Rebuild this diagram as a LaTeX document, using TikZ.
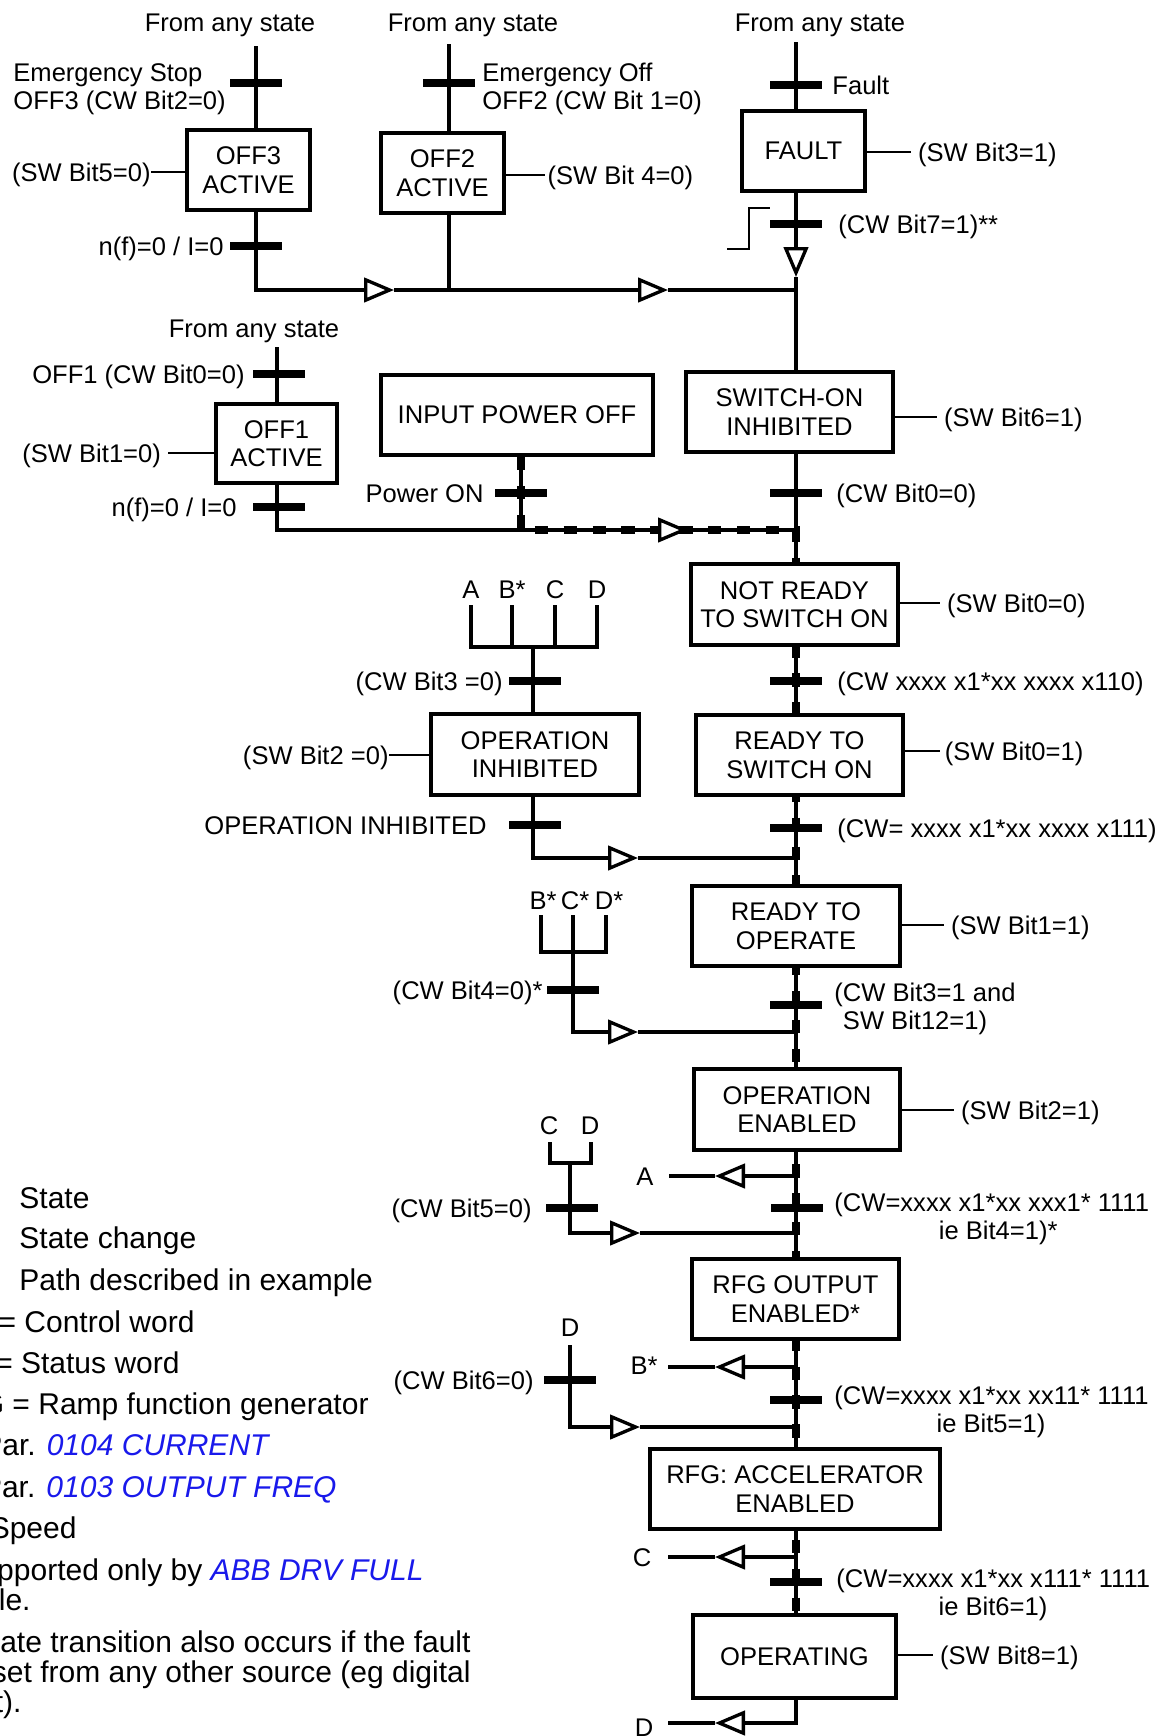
\documentclass[tikz,border=0pt]{standalone}
\usepackage{fontspec}
\setmainfont{Liberation Sans}
\usetikzlibrary{arrows.meta,calc}

\definecolor{parblue}{RGB}{25,25,235}
\newcommand{\boxfont}{\fontsize{11.5}{12.8}\selectfont}
\newcommand{\legfont}{\fontsize{13.5}{15}\selectfont}
\newcommand{\parref}[1]{\textcolor{parblue}{\itshape #1}}

\pgfdeclarelayer{back}
\pgfsetlayers{back,main}

\tikzset{
  stbox/.style 2 args={draw, fill=white, line width=1.9pt, align=center, font=\boxfont,
    inner sep=0pt, minimum width=#1*0.45pt, minimum height=#2*0.45pt},
  tbar/.style={fill, inner sep=0pt, minimum width=23pt, minimum height=4pt},
  lbl/.style={font=\boxfont, inner sep=0pt, text height=10.2pt, text depth=2pt},
  lbltwo/.style={font=\boxfont, inner sep=0pt, align=left},
  sw/.style={lbl, inner xsep=3pt},
  leg/.style={font=\legfont, inner sep=0pt, text height=11.7pt, text depth=2pt},
  link/.style={line width=1.5pt},
  swline/.style={line width=1.2pt},
  flow/.style={link, -{Triangle[fill=white, length=13.5pt, width=11pt]}},
  route/.style={line width=3.8pt, dash pattern=on 6pt off 7pt},
}

\begin{document}
\begin{tikzpicture}[x=0.45pt, y=-0.45pt]
  \useasboundingbox (0,0) rectangle (1166,1736);
  \clip (0,0) rectangle (1166,1736);

  % states
  \node[stbox={123}{80}] (off3) at (248.5,170) {OFF3\\ACTIVE};
  \node[stbox={123}{80}] (off2) at (442.5,173) {OFF2\\ACTIVE};
  \node[stbox={123}{80}] (fault) at (803.5,151) {FAULT};
  \node[stbox={121}{79}] (off1) at (276.5,443.5) {OFF1\\ACTIVE};
  \node[stbox={272}{80}] (power) at (517,415) {INPUT POWER OFF};
  \node[stbox={207}{80}] (swinh) at (789.5,412) {SWITCH-ON\\INHIBITED};
  \node[stbox={207}{81}] (notready) at (794.5,604.5) {NOT READY\\TO SWITCH ON};
  \node[stbox={208}{81}] (opinh) at (535,754.5) {OPERATION\\INHIBITED};
  \node[stbox={207}{80}] (readyon) at (799.5,755) {READY TO\\SWITCH ON};
  \node[stbox={208}{80}] (readyop) at (796,926) {READY TO\\OPERATE};
  \node[stbox={206}{81}] (openab) at (797,1109.5) {OPERATION\\ENABLED};
  \node[stbox={207}{80}] (rfgout) at (795.5,1299) {RFG OUTPUT\\ENABLED*};
  \node[stbox={290}{80}] (rfgacc) at (795,1489) {RFG: ACCELERATOR\\ENABLED};
  \node[stbox={203}{83}] (oper) at (794.5,1656.5) {OPERATING};

  % transitions
  \node[tbar] (off3in) at (256,83) {};
  \node[tbar] (off3out) at (256,246) {};
  \node[tbar] (off2in) at (449,83) {};
  \node[tbar] (faultin) at (796,85) {};
  \node[tbar] (reset) at (796,224) {};
  \node[tbar] (off1in) at (279,374) {};
  \node[tbar] (off1out) at (279,507) {};
  \node[tbar] (pwon) at (521,493) {};
  \node[tbar] (cwzero) at (796,493) {};
  \node[tbar] (bitthree) at (535,681) {};
  \node[tbar] (tosix) at (796,681) {};
  \node[tbar] (opinhout) at (535,825) {};
  \node[tbar] (toseven) at (796,828) {};
  \node[tbar] (bitfour) at (573,990) {};
  \node[tbar] (enable) at (796,1005) {};
  \node[tbar] (bitfive) at (572,1208) {};
  \node[tbar] (rfgon) at (797,1208) {};
  \node[tbar] (bitsix) at (570,1380) {};
  \node[tbar] (accon) at (796,1400) {};
  \node[tbar] (run) at (796,1582) {};

  % junctions and arrow tips
  \coordinate (sp) at (796,0);
  \coordinate (top3) at (256,46);
  \coordinate (top2) at (449,44);
  \coordinate (topf) at (796,42);
  \coordinate (top1) at (277,347);
  \coordinate (ar1) at (394,290);
  \coordinate (ar2) at (668,290);
  \coordinate (arf) at (796,277);
  \coordinate (j1) at (277,530);
  \coordinate (jp) at (521,530);
  \coordinate (ar3) at (688,530);
  \coordinate (sA) at (471,605);
  \coordinate (sB) at (512,605);
  \coordinate (sC) at (555,605);
  \coordinate (sD) at (597,605);
  \coordinate (k1) at (533,647);
  \coordinate (ar4) at (638,858);
  \coordinate (sB2) at (541,915);
  \coordinate (sC2) at (573,915);
  \coordinate (sD2) at (606,915);
  \coordinate (k2) at (573,952);
  \coordinate (ar5) at (638,1032);
  \coordinate (sC3) at (550,1142);
  \coordinate (sD3) at (591,1142);
  \coordinate (k3) at (570,1163);
  \coordinate (ar6) at (640,1233);
  \coordinate (sD4) at (570,1345);
  \coordinate (ar7) at (640,1427);
  \coordinate (arA) at (715,1176);
  \coordinate (eA) at (669,1176);
  \coordinate (arB) at (715,1367);
  \coordinate (eB) at (668,1367);
  \coordinate (arC) at (715,1557);
  \coordinate (eC) at (668,1557);
  \coordinate (arD) at (715,1723);
  \coordinate (eD) at (668,1723);

  % labels
  \node[lbl] (from3) at (230,22) {From any state};
  \node[lbl] (from2) at (473,22) {From any state};
  \node[lbl] (fromf) at (820,22) {From any state};
  \node[lbl] (from1) at (254,328) {From any state};
  \node[lbltwo, anchor=west] (estop) at (13,89) {Emergency Stop\\OFF3 (CW Bit2=0)};
  \node[lbltwo, anchor=west] (eoff) at (482,89) {Emergency Off\\OFF2 (CW Bit 1=0)};
  \node[lbl, anchor=west] (faultlbl) at (832,85) {Fault};
  \node[sw, inner xsep=0pt, anchor=east] (sw5) at (151,172) {(SW Bit5=0)};
  \node[sw, inner xsep=1pt, anchor=west] (sw4) at (545,175) {(SW Bit 4=0)};
  \node[sw, anchor=west] (sw3) at (911,152) {(SW Bit3=1)};
  \node[lbl, anchor=east] (nf3) at (224,246) {n(f)=0 / I=0};
  \node[lbl, anchor=west] (cw7) at (838,224) {(CW Bit7=1)**};
  \node[lbl, anchor=east] (off1lbl) at (245,374) {OFF1 (CW Bit0=0)};
  \node[sw, anchor=east] (sw1) at (168,453) {(SW Bit1=0)};
  \node[lbl, anchor=east] (nf1) at (237,507) {n(f)=0 / I=0};
  \node[lbl, anchor=east] (pwonlbl) at (484,493) {Power ON};
  \node[sw, anchor=west] (sw6) at (937,417) {(SW Bit6=1)};
  \node[lbl, anchor=west] (cw0) at (836,493) {(CW Bit0=0)};
  \node[lbl] (lA) at (471,589) {A};
  \node[lbl] (lB) at (512,589) {B*};
  \node[lbl] (lC) at (555,589) {C};
  \node[lbl] (lD) at (597,589) {D};
  \node[lbl, anchor=east] (cw3) at (503,681) {(CW Bit3 =0)};
  \node[sw, anchor=west] (sw0a) at (940,603) {(SW Bit0=0)};
  \node[lbl, anchor=west] (cw110) at (837,681) {(CW xxxx x1*xx xxxx x110)};
  \node[sw, inner xsep=0pt, anchor=east] (sw2) at (389,755) {(SW Bit2 =0)};
  \node[sw, inner xsep=2pt, anchor=west] (sw0b) at (940,751) {(SW Bit0=1)};
  \node[lbl, anchor=east] (opinhlbl) at (487,825) {OPERATION INHIBITED};
  \node[lbl, anchor=west] (cw111) at (837,828) {(CW= xxxx x1*xx xxxx x111)};
  \node[lbl] (lB2) at (543,900) {B*};
  \node[lbl] (lC2) at (575,900) {C*};
  \node[lbl] (lD2) at (609,900) {D*};
  \node[sw, anchor=west] (sw1b) at (944,925) {(SW Bit1=1)};
  \node[lbl, anchor=east] (cw4) at (543,990) {(CW Bit4=0)*};
  \node[lbltwo, anchor=west] (cw12) at (834,1009) {(CW Bit3=1 and\\\hphantom{(}SW Bit12=1)};
  \node[sw, anchor=west] (sw2b) at (954,1110) {(SW Bit2=1)};
  \node[lbl] (lC3) at (549,1125) {C};
  \node[lbl] (lD3) at (590,1125) {D};
  \node[lbl] (lA2) at (645,1176) {A};
  \node[lbl, anchor=east] (cw5) at (532,1208) {(CW Bit5=0)};
  \node[lbltwo, anchor=west] (cwbit4) at (834,1219) {(CW=xxxx x1*xx xxx1* 1111\\\hspace*{47pt}ie Bit4=1)*};
  \node[lbl] (lD4) at (570,1327) {D};
  \node[lbl] (lB3) at (644,1365) {B*};
  \node[lbl, anchor=east] (cw6) at (534,1380) {(CW Bit6=0)};
  \node[lbltwo, anchor=west] (cwbit5) at (834,1412) {(CW=xxxx x1*xx xx11* 1111\\\hspace*{46pt}ie Bit5=1)};
  \node[lbl] (lC4) at (642,1557) {C};
  \node[lbltwo, anchor=west] (cwbit6) at (836,1595) {(CW=xxxx x1*xx x111* 1111\\\hspace*{46pt}ie Bit6=1)};
  \node[sw, anchor=west] (sw8) at (933,1655) {(SW Bit8=1)};
  \node[lbl] (lD5) at (644,1727) {D};

  % legend
  \node[leg, anchor=west] (lgstate) at (19,1198) {State};
  \node[leg, anchor=west] (lgchange) at (19,1238) {State change};
  \node[leg, anchor=west] (lgpath) at (19,1280) {Path described in example};
  \node[leg, anchor=east] (lgcw) at (195,1322) {= Control word};
  \node[leg, anchor=east] (lgsw) at (180,1363) {= Status word};
  \node[leg, anchor=east] (lgrfg) at (369,1404) {G = Ramp function generator};
  \node[leg, anchor=east] (lgcur) at (269,1445) {Par. \parref{0104 CURRENT}};
  \node[leg, anchor=east] (lgfreq) at (337,1487) {Par. \parref{0103 OUTPUT FREQ}};
  \node[leg, anchor=east] (lgspeed) at (77,1528) {Speed};
  \node[leg, anchor=east] (lgabb) at (424,1570) {pported only by \parref{ABB DRV FULL}};
  \node[leg, anchor=east] (lgabbb) at (31,1600) {le.};
  \node[leg, anchor=east] (lgnote) at (471,1642) {ate transition also occurs if the fault};
  \node[leg, anchor=east] (lgnoteb) at (471,1672) {set from any other source (eg digital};
  \node[leg, anchor=east] (lgnotec) at (22,1702) {t).};

  \begin{pgfonlayer}{back}
    % path described in example
    \draw[route] (power.south -| pwon) -- (jp) -- (jp -| sp) -- (oper.north -| sp);
    % off3, off2, fault
    \draw[link] (top3) -- (top3 |- off3.north);
    \draw[flow] (top3 |- off3.south) |- (ar1);
    \draw[flow] (ar1) -- (ar2);
    \draw[link] (ar2) -- (ar2 -| sp);
    \draw[link] (top2) -- (top2 |- off2.north);
    \draw[link] (top2 |- off2.south) -- (top2 |- ar1);
    \draw[link] (topf) -- (topf |- fault.north);
    \draw[flow] (fault.south -| sp) -- (arf);
    \draw[link] (arf) -- (swinh.north -| sp);
    \draw[line width=0.7pt] (727,249) -- (749,249) -- (749,208) -- (770,208);
    % off1, power on
    \draw[link] (top1) -- (top1 |- off1.north);
    \draw[link] (top1 |- off1.south) -- (j1) -- (jp);
    \draw[link] (power.south -| pwon) -- (jp);
    \draw[flow] (jp) -- (ar3);
    \draw[link] (ar3) -- (ar3 -| sp);
    % main chain
    \draw[link] (swinh.south -| sp) -- (notready.north -| sp);
    \draw[link] (notready.south -| sp) -- (readyon.north -| sp);
    \draw[link] (readyon.south -| sp) -- (readyop.north -| sp);
    \draw[link] (readyop.south -| sp) -- (openab.north -| sp);
    \draw[link] (openab.south -| sp) -- (rfgout.north -| sp);
    \draw[link] (rfgout.south -| sp) -- (rfgacc.north -| sp);
    \draw[link] (rfgacc.south -| sp) -- (oper.north -| sp);
    % A B* C D into operation inhibited
    \draw[link] (sA) |- (k1 -| sD) -- (sD);
    \draw[link] (sB) -- (sB |- k1);
    \draw[link] (sC) -- (sC |- k1);
    \draw[link] (k1) -- (k1 |- opinh.north);
    \draw[flow] (opinh.south -| k1) |- (ar4);
    \draw[link] (ar4) -- (ar4 -| sp);
    % B* C* D*
    \draw[link] (sB2) |- (k2 -| sD2) -- (sD2);
    \draw[flow] (sC2) |- (ar5);
    \draw[link] (ar5) -- (ar5 -| sp);
    % C D
    \draw[link] (sC3) |- (k3 -| sD3) -- (sD3);
    \draw[flow] (k3) |- (ar6);
    \draw[link] (ar6) -- (ar6 -| sp);
    % D
    \draw[flow] (sD4) |- (ar7);
    \draw[link] (ar7) -- (ar7 -| sp);
    % exits A B* C D
    \draw[flow] (arA -| sp) -- (arA);
    \draw[link] (arA) -- (eA);
    \draw[flow] (arB -| sp) -- (arB);
    \draw[link] (arB) -- (eB);
    \draw[flow] (arC -| sp) -- (arC);
    \draw[link] (arC) -- (eC);
    \draw[flow] (oper.south -| sp) |- (arD);
    \draw[link] (arD) -- (eD);
    % status word lines
    \draw[swline] (off3.west |- sw5) -- (sw5.east);
    \draw[swline] (off2.east |- sw4) -- (sw4.west);
    \draw[swline] (fault.east |- sw3) -- (sw3.west);
    \draw[swline] (off1.west |- sw1) -- (sw1.east);
    \draw[swline] (swinh.east |- sw6) -- (sw6.west);
    \draw[swline] (notready.east |- sw0a) -- (sw0a.west);
    \draw[swline] (opinh.west |- sw2) -- (sw2.east);
    \draw[swline] (readyon.east |- sw0b) -- (sw0b.west);
    \draw[swline] (readyop.east |- sw1b) -- (sw1b.west);
    \draw[swline] (openab.east |- sw2b) -- (sw2b.west);
    \draw[swline] (oper.east |- sw8) -- (sw8.west);
  \end{pgfonlayer}
\end{tikzpicture}
\end{document}
